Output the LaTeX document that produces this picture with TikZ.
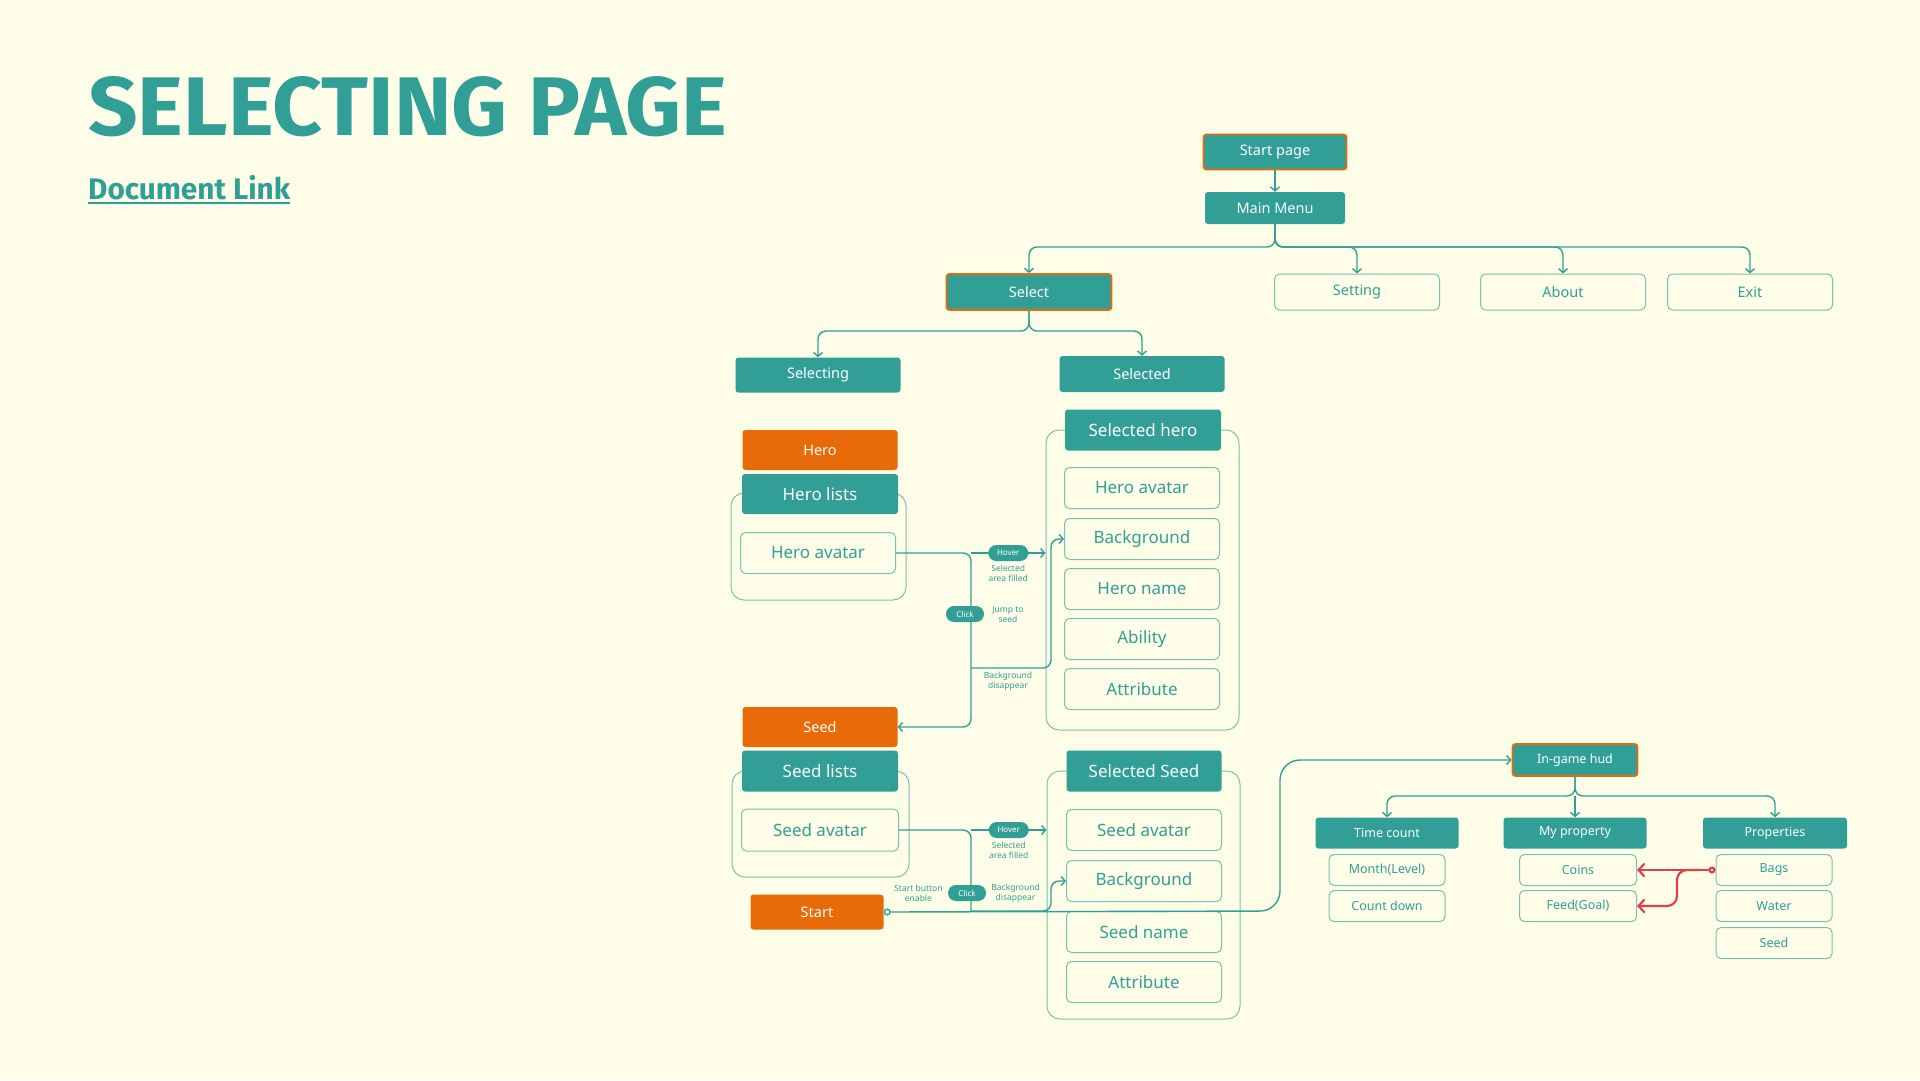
\documentclass[tikz,border=0pt]{standalone}
\usepackage{fontspec}
\setmainfont{Noto Sans}
\newfontfamily\titrefont{Fira Sans}
\usepackage{graphicx}
\usepackage{xcolor}
\definecolor{pagecream}{RGB}{254,254,232}
\definecolor{pageteal}{RGB}{49,159,150}
\definecolor{pageorange}{RGB}{232,106,8}
\definecolor{pageline}{RGB}{118,193,183}
\definecolor{pagered}{RGB}{228,62,72}
\usepackage{tikz}
\usetikzlibrary{arrows.meta,positioning,shapes}

\begin{document}
\begin{tikzpicture}[x=1pt, y=-1pt,
      bloc/.style={fill=pageteal, text=white, rounded corners=3pt, inner sep=0pt,
                   align=center, font=\fontsize{14.5}{17}\selectfont},
      cle/.style={draw=pageorange, line width=1.8pt},
      accent/.style={fill=pageorange, text=white, rounded corners=3pt, inner sep=0pt,
                     font=\fontsize{14.5}{17}\selectfont},
      vide/.style={draw=pageline, line width=1pt, fill=pagecream, text=pageteal,
                   rounded corners=5pt, inner sep=0pt, font=\fontsize{14.5}{17}\selectfont},
      grand/.style={font=\fontsize{17}{20}\selectfont},
      hud/.style={font=\fontsize{12.5}{15}\selectfont},
      petit/.style={font=\fontsize{12.5}{15}\selectfont},
      cadre/.style={draw=pageline, line width=1pt, rounded corners=13pt},
      pastille/.style={fill=pageteal, text=white, rounded corners=8pt, minimum width=40pt,
                       minimum height=16pt, inner sep=0pt, font=\fontsize{8}{9}\selectfont},
      note/.style={text=pageteal, align=center, inner sep=0pt, font=\fontsize{8.5}{10}\selectfont},
      trait/.style={draw=pageteal, line width=1.4pt, rounded corners=8pt},
      lien/.style={trait, -{Straight Barb[length=4pt,width=9pt]}},
      lienrouge/.style={draw=pagered, line width=2.2pt, rounded corners=10pt,
                        -{Straight Barb[length=6pt,width=13pt]}}]
    \fill[pagecream] (0,0) rectangle (1920,1080);
    \useasboundingbox (0,0) rectangle (1920,1080);

    % titre
    \node[anchor=north west, inner sep=0pt, text=pageteal] (titre) at (88,76)
      {\resizebox{639pt}{59pt}{\titrefont\bfseries SELECTING PAGE}};
    \node[anchor=base west, inner sep=0pt, text=pageteal] (doclien) at (88,199)
      {\resizebox{202pt}{!}{\titrefont\bfseries Document Link}};
    \draw[pageteal, line width=2pt] ([yshift=-4pt]doclien.base west) -- ([yshift=-4pt]doclien.base east);

    % menu
    \node[bloc, cle, minimum width=143pt, minimum height=35pt] (startp) at (1275,152) {Start page};
    \node[bloc, minimum width=140pt, minimum height=32pt] (menu) at (1275,208) {Main Menu};
    \node[bloc, cle, minimum width=165pt, minimum height=36pt] (select) at (1029,292) {Select};
    \node[vide, minimum width=165pt, minimum height=36pt] (setting) at (1357,292) {Setting};
    \node[vide, minimum width=165pt, minimum height=36pt] (about) at (1563,292) {About};
    \node[vide, minimum width=165pt, minimum height=36pt] (exit) at (1750,292) {Exit};
    \node[bloc, minimum width=165pt, minimum height=35pt] (selecting) at (818,375) {Selecting};
    \node[bloc, minimum width=165pt, minimum height=36pt] (selected) at (1142,374) {Selected};

    % heros
    \node[cadre, minimum width=175pt, minimum height=107pt] (cadreListe) at (818.5,546.5) {};
    \node[accent, minimum width=155pt, minimum height=40pt] (hero) at (820,450) {Hero};
    \node[bloc, grand, minimum width=156pt, minimum height=40pt] (heroListe) at (820,494) {Hero lists};
    \node[vide, grand, minimum width=155pt, minimum height=41pt] (heroAv) at (818,553) {Hero avatar};

    \node[cadre, minimum width=193pt, minimum height=300pt] (cadreHeros) at (1142.5,580) {};
    \node[bloc, grand, minimum width=156pt, minimum height=41pt] (heroSel) at (1143,430) {Selected hero};
    \node[vide, grand, minimum width=155pt, minimum height=41pt] (hAv) at (1142,488) {Hero avatar};
    \node[vide, grand, minimum width=155pt, minimum height=41pt] (hFond) at (1142,539) {Background};
    \node[vide, grand, minimum width=155pt, minimum height=41pt] (hNom) at (1142,589) {Hero name};
    \node[vide, grand, minimum width=155pt, minimum height=41pt] (hAbil) at (1142,639) {Ability};
    \node[vide, grand, minimum width=155pt, minimum height=41pt] (hAttr) at (1142,689) {Attribute};

    % graines
    \node[cadre, minimum width=177pt, minimum height=106pt] (cadreGraine) at (820.5,824) {};
    \node[accent, minimum width=155pt, minimum height=40pt] (seed) at (820,727) {Seed};
    \node[bloc, grand, minimum width=156pt, minimum height=41pt] (seedListe) at (820,771) {Seed lists};
    \node[vide, grand, minimum width=157pt, minimum height=42pt] (seedAv) at (820,830) {Seed avatar};
    \node[accent, minimum width=133pt, minimum height=35pt] (startb) at (817,912) {Start};

    \node[cadre, minimum width=193pt, minimum height=248pt] (cadreSel) at (1143.5,895) {};
    \node[bloc, grand, minimum width=155pt, minimum height=41pt] (seedSel) at (1144,771) {Selected Seed};
    \node[vide, grand, minimum width=155pt, minimum height=41pt] (sAv) at (1144,830) {Seed avatar};
    \node[vide, grand, minimum width=155pt, minimum height=41pt] (sFond) at (1144,881) {Background};
    \node[vide, grand, minimum width=155pt, minimum height=41pt] (sNom) at (1144,932) {Seed name};
    \node[vide, grand, minimum width=155pt, minimum height=41pt] (sAttr) at (1144,982) {Attribute};

    % hud
    \node[bloc, cle, hud, minimum width=125pt, minimum height=32pt] (hudj) at (1575,760) {In-game hud};
    \node[bloc, hud, minimum width=143pt, minimum height=31pt] (temps) at (1387,833) {Time count};
    \node[bloc, hud, minimum width=143pt, minimum height=31pt] (monbien) at (1575,833) {My property};
    \node[bloc, hud, minimum width=144pt, minimum height=31pt] (props) at (1775,833) {Properties};
    \node[vide, petit, minimum width=116pt, minimum height=31pt] (mois) at (1387,870) {Month(Level)};
    \node[vide, petit, minimum width=116pt, minimum height=31pt] (compte) at (1387,906) {Count down};
    \node[vide, petit, minimum width=117pt, minimum height=31pt] (pieces) at (1578,870) {Coins};
    \node[vide, petit, minimum width=117pt, minimum height=31pt] (nourr) at (1578,906) {Feed(Goal)};
    \node[vide, petit, minimum width=116pt, minimum height=31pt] (sacs) at (1774,870) {Bags};
    \node[vide, petit, minimum width=116pt, minimum height=31pt] (eau) at (1774,906) {Water};
    \node[vide, petit, minimum width=116pt, minimum height=31pt] (graine) at (1774,943) {Seed};

    % liens du menu
    \coordinate (mbus) at (1275,247);
    \coordinate (sbus) at (1029,331);
    \draw[lien] (startp) -- (menu);
    \draw[lien] (menu.south) -- (mbus) -| (select.north);
    \draw[lien] (menu.south) -- (mbus) -| (setting.north);
    \draw[lien] (menu.south) -- (mbus) -| (about.north);
    \draw[lien] (menu.south) -- (mbus) -| (exit.north);
    \draw[lien] (select.south) -- (sbus) -| (selecting.north);
    \draw[lien] (select.south) -- (sbus) -| (selected.north);

    % liens heros
    \coordinate (hj) at (971,553);
    \coordinate (bj) at (971,668);
    \coordinate (bk) at (1051,668);
    \draw[lien] (heroAv.east) -- (hj) |- (seed.east);
    \draw[lien] (bj) -- (bk) |- (hFond.west);
    \draw[lien] (hj) -- node[pastille] (survol1) {Hover} (cadreHeros.west |- hj);
    \node[note, below=3pt of survol1] (rempli1) {Selected\\area filled};
    \node[pastille, minimum width=38pt] (clic1) at (965,614) {Click};
    \node[note, right=8pt of clic1] (saut) {Jump to\\seed};
    \node[note] (fond1) at (1008,681) {Background\\disappear};

    % liens graines
    \coordinate (sj) at (971,830);
    \coordinate (sk) at (971,911);
    \coordinate (sb) at (1051,911);
    \coordinate (virage) at (1280,911);
    \draw[trait] (seedAv.east) -- (sj) -- (sk);
    \draw[trait, rounded corners=20pt,
          {Circle[open,fill=white,length=7pt,width=7pt]}-{Straight Barb[length=4pt,width=9pt]}]
          (startb.east) -- (virage) |- (hudj.west);
    \draw[lien] (sk) -- (sb) |- (sFond.west);
    \draw[lien] (sj) -- node[pastille] (survol2) {Hover} (cadreSel.west |- sj);
    \node[note, below=3pt of survol2] (rempli2) {Selected\\area filled};
    \node[pastille, minimum width=38pt] (clic2) at (967,893) {Click};
    \node[note, left=5pt of clic2] (activ) {Start button\\enable};
    \node[note, right=5pt of clic2] (fond2) {Background\\disappear};

    % liens hud
    \coordinate (hbus) at (1575,796);
    \draw[lien] (hudj.south) -- (hbus) -| (temps.north);
    \draw[lien] (hudj.south) -- (hbus) -| (props.north);
    \draw[lien] (hbus) -- (monbien.north);

    \coordinate (rk) at (1700,870);
    \coordinate (rm) at (1677,888);
    \draw[lienrouge, {Circle[open,fill=white,length=7pt,width=7pt]}-{Straight Barb[length=6pt,width=13pt]}]
          (sacs.west) -- (pieces.east);
    \draw[lienrouge] (rk) -| (rm) |- (nourr.east);
  \end{tikzpicture}
\end{document}
